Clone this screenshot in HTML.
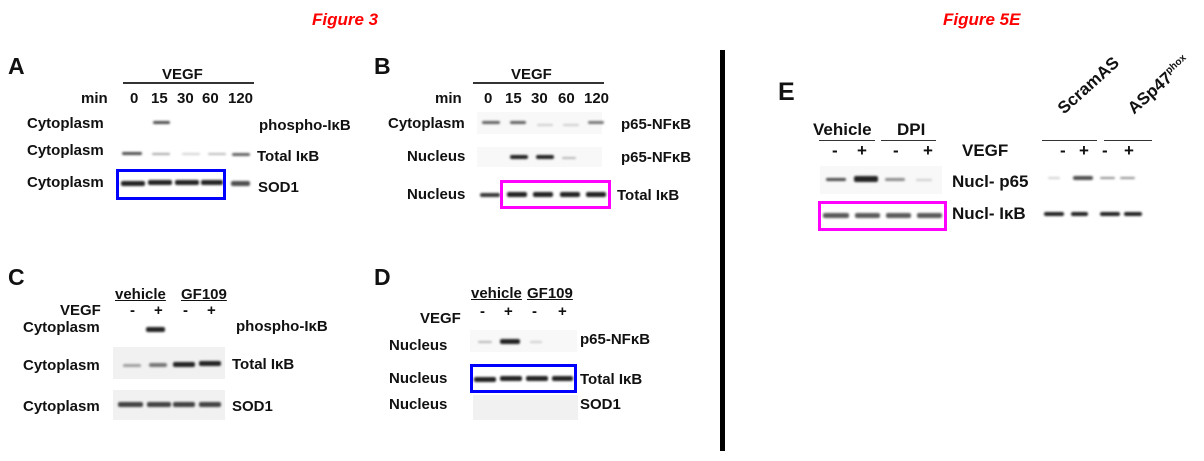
<!DOCTYPE html>
<html><head><meta charset="utf-8"><style>
body{margin:0;width:1204px;height:461px;background:#fff;position:relative;overflow:hidden;font-family:"Liberation Sans",Arial,sans-serif;font-weight:bold;color:#111}
.t{position:absolute;font-size:15px;white-space:nowrap;line-height:1}
.L{position:absolute;font-size:23px;line-height:1}
.b{position:absolute;height:5px;border-radius:2px;background:#222;filter:blur(1px)}
.h{position:absolute;height:2px;background:#333}
.bg{position:absolute;background:#f1f1f1}
.box{position:absolute;box-sizing:border-box}
.ttl{position:absolute;color:#f00;font-style:italic;font-size:17px;line-height:1}
.e{font-size:17px}
</style></head><body>
<div class="ttl" style="left:312px;top:11px">Figure 3</div>
<div class="ttl" style="left:943px;top:11px">Figure 5E</div>
<div style="position:absolute;left:720px;top:50px;width:5px;height:401px;background:#000"></div>

<!-- A -->
<div class="L" style="left:8px;top:55px">A</div>
<div class="h" style="left:123px;top:82px;width:131px"></div>
<div class="t" style="left:162px;top:67px">VEGF</div>
<div class="t" style="left:81px;top:91px">min</div>
<div class="t" style="left:130px;top:91px">0</div>
<div class="t" style="left:151px;top:91px">15</div>
<div class="t" style="left:177px;top:91px">30</div>
<div class="t" style="left:202px;top:91px">60</div>
<div class="t" style="left:228px;top:91px">120</div>
<div class="t" style="left:27px;top:116px">Cytoplasm</div>
<div class="t" style="left:27px;top:143px">Cytoplasm</div>
<div class="t" style="left:27px;top:175px">Cytoplasm</div>
<div class="t" style="left:259px;top:118px">phospho-IκB</div>
<div class="t" style="left:257px;top:149px">Total IκB</div>
<div class="t" style="left:258px;top:180px">SOD1</div>
<div class="b" style="left:153px;top:121px;width:17px;height:3px;opacity:.8"></div>
<div class="b" style="left:122px;top:152px;width:20px;height:3px;opacity:.8"></div>
<div class="b" style="left:152px;top:153px;width:18px;height:2px;opacity:.4"></div>
<div class="b" style="left:182px;top:153px;width:18px;height:2px;opacity:.2"></div>
<div class="b" style="left:208px;top:153px;width:18px;height:2px;opacity:.3"></div>
<div class="b" style="left:232px;top:153px;width:18px;height:3px;opacity:.7"></div>
<div class="b" style="left:121px;top:181px;width:24px"></div>
<div class="b" style="left:148px;top:180px;width:24px"></div>
<div class="b" style="left:175px;top:180px;width:24px"></div>
<div class="b" style="left:201px;top:180px;width:22px"></div>
<div class="b" style="left:231px;top:181px;width:19px;opacity:.8"></div>
<div class="box" style="left:116px;top:169px;width:110px;height:31px;border:3px solid #0000ff"></div>

<!-- B -->
<div class="L" style="left:374px;top:55px">B</div>
<div class="h" style="left:473px;top:82px;width:131px"></div>
<div class="t" style="left:511px;top:67px">VEGF</div>
<div class="t" style="left:435px;top:91px">min</div>
<div class="t" style="left:484px;top:91px">0</div>
<div class="t" style="left:505px;top:91px">15</div>
<div class="t" style="left:531px;top:91px">30</div>
<div class="t" style="left:558px;top:91px">60</div>
<div class="t" style="left:584px;top:91px">120</div>
<div class="t" style="left:388px;top:116px">Cytoplasm</div>
<div class="t" style="left:407px;top:149px">Nucleus</div>
<div class="t" style="left:407px;top:187px">Nucleus</div>
<div class="t" style="left:621px;top:117px">p65-NFκB</div>
<div class="t" style="left:621px;top:150px">p65-NFκB</div>
<div class="t" style="left:617px;top:188px">Total IκB</div>
<div class="bg" style="left:477px;top:112px;width:125px;height:22px;opacity:.5"></div>
<div class="bg" style="left:477px;top:147px;width:125px;height:20px;opacity:.5"></div>
<div class="b" style="left:482px;top:121px;width:18px;height:3px;opacity:.7"></div>
<div class="b" style="left:510px;top:121px;width:16px;height:3px;opacity:.7"></div>
<div class="b" style="left:537px;top:124px;width:16px;height:2px;opacity:.2"></div>
<div class="b" style="left:563px;top:124px;width:16px;height:2px;opacity:.2"></div>
<div class="b" style="left:588px;top:121px;width:16px;height:3px;opacity:.6"></div>
<div class="b" style="left:510px;top:155px;width:18px;height:4px"></div>
<div class="b" style="left:536px;top:155px;width:18px;height:4px"></div>
<div class="b" style="left:562px;top:157px;width:14px;height:2px;opacity:.3"></div>
<div class="b" style="left:480px;top:193px;width:20px;height:4px;opacity:.9"></div>
<div class="b" style="left:507px;top:192px;width:20px"></div>
<div class="b" style="left:533px;top:192px;width:20px"></div>
<div class="b" style="left:560px;top:192px;width:20px"></div>
<div class="b" style="left:586px;top:192px;width:20px"></div>
<div class="box" style="left:500px;top:180px;width:111px;height:29px;border:3px solid #ff00ff"></div>

<!-- C -->
<div class="L" style="left:8px;top:266px">C</div>
<div class="t" style="left:115px;top:287px;text-decoration:underline">vehicle</div>
<div class="t" style="left:181px;top:287px;text-decoration:underline">GF109</div>
<div class="t" style="left:60px;top:303px">VEGF</div>
<div class="t" style="left:130px;top:303px">-</div>
<div class="t" style="left:154px;top:303px">+</div>
<div class="t" style="left:183px;top:303px">-</div>
<div class="t" style="left:207px;top:303px">+</div>
<div class="t" style="left:23px;top:320px">Cytoplasm</div>
<div class="t" style="left:23px;top:358px">Cytoplasm</div>
<div class="t" style="left:23px;top:399px">Cytoplasm</div>
<div class="t" style="left:236px;top:319px">phospho-IκB</div>
<div class="t" style="left:232px;top:357px">Total IκB</div>
<div class="t" style="left:232px;top:399px">SOD1</div>
<div class="bg" style="left:113px;top:347px;width:112px;height:32px"></div>
<div class="bg" style="left:113px;top:390px;width:112px;height:30px"></div>
<div class="b" style="left:146px;top:327px;width:19px;height:5px"></div>
<div class="b" style="left:123px;top:364px;width:18px;height:3px;opacity:.4"></div>
<div class="b" style="left:149px;top:363px;width:18px;height:4px;opacity:.6"></div>
<div class="b" style="left:173px;top:362px;width:22px"></div>
<div class="b" style="left:199px;top:361px;width:22px"></div>
<div class="b" style="left:118px;top:402px;width:25px;opacity:.85"></div>
<div class="b" style="left:147px;top:402px;width:24px;opacity:.85"></div>
<div class="b" style="left:173px;top:402px;width:22px;opacity:.85"></div>
<div class="b" style="left:199px;top:402px;width:22px;opacity:.85"></div>

<!-- D -->
<div class="L" style="left:374px;top:266px">D</div>
<div class="t" style="left:471px;top:286px;text-decoration:underline">vehicle</div>
<div class="t" style="left:527px;top:286px;text-decoration:underline">GF109</div>
<div class="t" style="left:420px;top:311px">VEGF</div>
<div class="t" style="left:480px;top:304px">-</div>
<div class="t" style="left:504px;top:304px">+</div>
<div class="t" style="left:532px;top:304px">-</div>
<div class="t" style="left:558px;top:304px">+</div>
<div class="t" style="left:389px;top:338px">Nucleus</div>
<div class="t" style="left:389px;top:371px">Nucleus</div>
<div class="t" style="left:389px;top:397px">Nucleus</div>
<div class="t" style="left:580px;top:332px">p65-NFκB</div>
<div class="t" style="left:580px;top:372px">Total IκB</div>
<div class="t" style="left:580px;top:397px">SOD1</div>
<div class="bg" style="left:470px;top:330px;width:107px;height:22px;opacity:.5"></div>
<div class="bg" style="left:473px;top:395px;width:105px;height:25px"></div>
<div class="b" style="left:478px;top:341px;width:14px;height:2px;opacity:.3"></div>
<div class="b" style="left:500px;top:339px;width:20px"></div>
<div class="b" style="left:530px;top:341px;width:12px;height:2px;opacity:.2"></div>
<div class="b" style="left:474px;top:377px;width:22px"></div>
<div class="b" style="left:500px;top:376px;width:22px"></div>
<div class="b" style="left:526px;top:376px;width:22px"></div>
<div class="b" style="left:552px;top:376px;width:21px"></div>
<div class="box" style="left:470px;top:364px;width:107px;height:29px;border:3px solid #0000ff"></div>

<!-- E -->
<div class="L" style="left:778px;top:80px;font-size:25px">E</div>
<div class="t e" style="left:813px;top:121px">Vehicle</div>
<div class="t e" style="left:897px;top:121px">DPI</div>
<div class="h" style="left:819px;top:140px;width:56px;height:1px"></div>
<div class="h" style="left:881px;top:140px;width:55px;height:1px"></div>
<div class="t e" style="left:832px;top:142px">-</div>
<div class="t e" style="left:857px;top:142px">+</div>
<div class="t e" style="left:893px;top:142px">-</div>
<div class="t e" style="left:923px;top:142px">+</div>
<div class="t e" style="left:962px;top:142px">VEGF</div>
<div class="t e" style="left:952px;top:173px">Nucl- p65</div>
<div class="t e" style="left:952px;top:205px">Nucl- IκB</div>
<div class="bg" style="left:820px;top:166px;width:122px;height:28px;opacity:.5"></div>
<div class="b" style="left:826px;top:178px;width:20px;height:3px;opacity:.8"></div>
<div class="b" style="left:854px;top:176px;width:24px;height:6px"></div>
<div class="b" style="left:885px;top:178px;width:20px;height:3px;opacity:.5"></div>
<div class="b" style="left:916px;top:179px;width:16px;height:2px;opacity:.2"></div>
<div class="b" style="left:823px;top:213px;width:26px;opacity:.75"></div>
<div class="b" style="left:855px;top:213px;width:25px;opacity:.75"></div>
<div class="b" style="left:886px;top:213px;width:25px;opacity:.75"></div>
<div class="b" style="left:917px;top:213px;width:25px;opacity:.75"></div>
<div class="box" style="left:818px;top:201px;width:129px;height:30px;border:3px solid #ff00ff"></div>
<div class="t e" style="left:1066px;top:100px;transform:rotate(-42deg);transform-origin:0 100%">ScramAS</div>
<div class="t e" style="left:1136px;top:100px;transform:rotate(-42deg);transform-origin:0 100%">ASp47<sup style="font-size:10px">phox</sup></div>
<div class="h" style="left:1042px;top:140px;width:55px;height:1px"></div>
<div class="h" style="left:1104px;top:140px;width:48px;height:1px"></div>
<div class="t e" style="left:1060px;top:142px">-</div>
<div class="t e" style="left:1079px;top:142px">+</div>
<div class="t e" style="left:1102px;top:142px">-</div>
<div class="t e" style="left:1124px;top:142px">+</div>
<div class="b" style="left:1048px;top:177px;width:12px;height:2px;opacity:.2"></div>
<div class="b" style="left:1073px;top:176px;width:20px;height:4px;opacity:.8"></div>
<div class="b" style="left:1100px;top:177px;width:15px;height:2px;opacity:.5"></div>
<div class="b" style="left:1120px;top:177px;width:15px;height:2px;opacity:.5"></div>
<div class="b" style="left:1044px;top:212px;width:20px;height:4px"></div>
<div class="b" style="left:1071px;top:212px;width:17px;height:4px"></div>
<div class="b" style="left:1100px;top:212px;width:20px;height:4px"></div>
<div class="b" style="left:1124px;top:212px;width:18px;height:4px"></div>
</body></html>
